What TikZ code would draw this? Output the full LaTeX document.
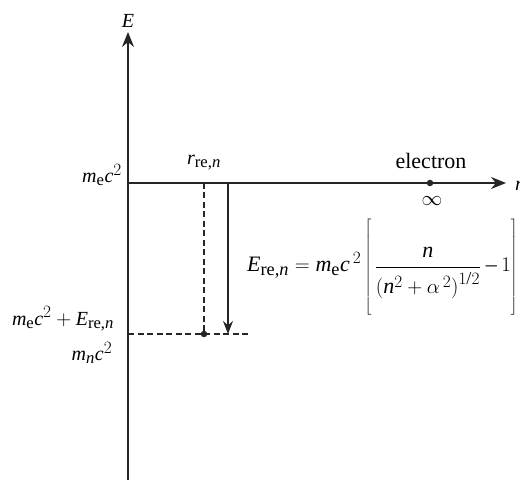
\documentclass[tikz,border=0pt]{standalone}
\usepackage{fontspec}
\setmainfont{Liberation Serif}
\usepackage[italic]{mathastext}
\usetikzlibrary{arrows.meta}
\delimiterfactor=1000
\delimitershortfall=0pt
\tikzset{
  axis/.style={line width=1.4pt, draw=black!85},
  axisarrow/.style={axis, -{Stealth[length=15pt,width=12pt]}},
  dashline/.style={line width=1.4pt, draw=black!85, dash pattern=on 6pt off 3.5pt},
  dotnode/.style={circle, fill=black!85, inner sep=0pt, minimum size=6.5pt},
  lbl/.style={inner sep=0pt, font=\fontsize{20}{24}\selectfont}
}
\begin{document}
\begin{tikzpicture}[x=1pt,y=-1pt]
\useasboundingbox (0,0) rectangle (520,481);
\clip (0,0) rectangle (520,481);
\coordinate (ybot) at (128,480);
\coordinate (ytop) at (128,32);
\coordinate (O) at (128,183);
\coordinate (xend) at (506,183);
\coordinate (L) at (128,334);
\coordinate (Lend) at (248,334);
\coordinate (rtop) at (204,183);
\coordinate (atop) at (228,183);
\coordinate (abot) at (228,334);
\node[dotnode] (rdot) at (204,334) {};
\node[dotnode] (edot) at (430,183) {};
\draw[axisarrow] (ybot) -- (ytop);
\draw[axisarrow] (O) -- (xend);
\draw[dashline] (L) -- (Lend);
\draw[dashline] (rtop) -- (rdot);
\draw[axis, -{Stealth[length=13pt,width=10pt]}] (atop) -- (abot);
\node[lbl] (E) at (128,21) {$E$};
\node[lbl, anchor=west] (r) at (515,186) {$r$};
\node[lbl] (mec2) at (102,175) {$m_{\mathrm{e}}c^2$};
\node[lbl] (rre) at (204,163) {$r_{\mathrm{re},n}$};
\node[lbl, font=\fontsize{22}{26}\selectfont] (elec) at (431,161) {electron};
\node[lbl] (inf) at (432,201) {$\infty$};
\node[lbl] (mecE) at (63,319) {$m_{\mathrm{e}}c^2+E_{\mathrm{re},n}$};
\node[lbl] (mnc2) at (92,353) {$m_n c^2$};
\node[lbl, anchor=base west, font=\fontsize{22}{26}\selectfont] (eq) at (247,272) {$\displaystyle E_{\mathrm{re},n}=m_{\mathrm{e}}c^{\,2}\left[\vrule height 50pt depth 40pt width 0pt\,\frac{n\rule[-3pt]{0pt}{0pt}}{\rule{0pt}{25pt}\bigl(n^2+\alpha^{\,2}\bigr)^{1/2}}-1\right]$};
\end{tikzpicture}
\end{document}
